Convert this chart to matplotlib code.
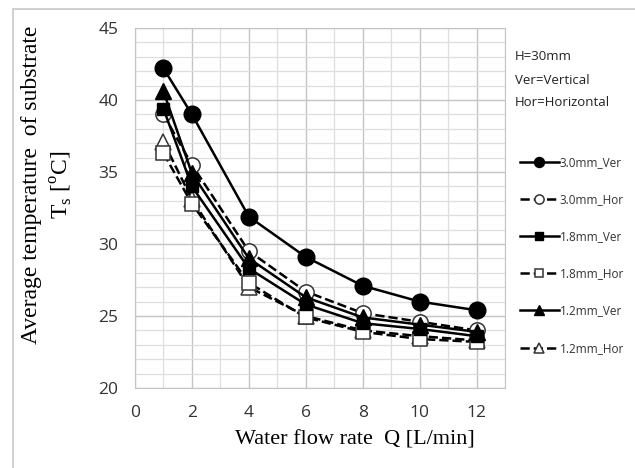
import matplotlib
matplotlib.use("Agg")
from matplotlib import pyplot as plt
from matplotlib.patches import Rectangle
from matplotlib.ticker import MultipleLocator

flow = [1, 2, 4, 6, 8, 10, 12]

# Substrate temperature (C)
ver30 = [42.2, 39.0, 31.9, 29.1, 27.1, 26.0, 25.4]
hor30 = [39.0, 35.5, 29.5, 26.7, 25.2, 24.6, 24.0]
ver18 = [39.4, 34.0, 28.3, 25.8, 24.5, 24.1, 23.6]
hor18 = [36.3, 32.8, 27.3, 24.9, 23.9, 23.4, 23.2]
ver12 = [40.6, 34.9, 29.0, 26.3, 24.9, 24.4, 23.9]
hor12 = [37.1, 33.1, 27.0, 25.0, 24.0, 23.6, 23.3]

labels = ["3.0mm_Ver", "3.0mm_Hor", "1.8mm_Ver", "1.8mm_Hor", "1.2mm_Ver", "1.2mm_Hor"]

fig = plt.figure(figsize=(6.35, 4.68), dpi=100)
ax = fig.add_axes([0.2126, 0.171, 0.5827, 0.769])

# gray frame around the picture
fig.patches.append(Rectangle((13 / 635, -0.02), 1.0, 1 - 9 / 468 + 0.02, transform=fig.transFigure,
                             fill=False, edgecolor='#c8c8c8', linewidth=1.2))

ax.plot(flow, hor12, '--^', color='black', lw=1.8, ms=11, mfc='white', mec='#333333', mew=1.1, label=labels[5])
ax.plot(flow, hor18, '--s', color='black', lw=1.8, ms=10, mfc='white', mec='#333333', mew=1.1, label=labels[3])
ax.plot(flow, hor30, '--o', color='black', lw=1.8, ms=11, mfc='white', mec='#333333', mew=1.1, label=labels[1])
ax.plot(flow, ver12, '-^', color='black', lw=1.8, ms=11, label=labels[4])
ax.plot(flow, ver18, '-s', color='black', lw=1.8, ms=9, label=labels[2])
ax.plot(flow, ver30, '-o', color='black', lw=1.8, ms=12, label=labels[0])

ax.set_xlim(0, 13)
ax.set_ylim(20, 45)
ax.xaxis.set_major_locator(MultipleLocator(2))
ax.xaxis.set_minor_locator(MultipleLocator(1))
ax.yaxis.set_major_locator(MultipleLocator(5))
ax.yaxis.set_minor_locator(MultipleLocator(1))
ax.grid(which='major', color='#c4c4c4', linewidth=1.0)
ax.grid(which='minor', color='#dedede', linewidth=0.9)
ax.set_axisbelow(True)
for s in ax.spines.values():
    s.set_color('#c4c4c4')
ax.tick_params(which='both', length=0, labelsize=12.5, labelcolor='#333333', pad=12,
               labelfontfamily='Open Sans')

ax.set_ylabel("Average temperature  of substrate\nT$_\\mathregular{s}$ [$^\\mathregular{o}$C]",
              family='Liberation Serif', fontsize=17, linespacing=1.35)
ax.yaxis.set_label_coords(-0.162, 0.565)
ax.set_xlabel("Water flow rate  Q [L/min]", family='Liberation Serif', fontsize=16)
ax.xaxis.set_label_coords(0.595, -0.117)

fig.text(515 / 635, 1 - 57 / 468, "H=30mm", family='Open Sans', fontsize=9.5, va='center', color='#222222')
fig.text(515 / 635, 1 - 80 / 468, "Ver=Vertical", family='Open Sans', fontsize=9.5, va='center', color='#222222')
fig.text(515 / 635, 1 - 103 / 468, "Hor=Horizontal", family='Open Sans', fontsize=9.5, va='center', color='#222222')

handles, labs = ax.get_legend_handles_labels()
order = [labs.index(l) for l in labels]
leg = fig.legend([handles[i] for i in order], [labs[i] for i in order],
                 loc='upper left', bbox_to_anchor=(515 / 635, 1 - 151 / 468), frameon=False,
                 prop={'family': 'Open Sans', 'size': 8.5}, handlelength=3.3, handletextpad=0.1,
                 labelspacing=2.05, markerscale=0.6, borderaxespad=0)
for t in leg.get_texts():
    t.set_color('#333333')

fig.savefig("out.png", dpi=100)
